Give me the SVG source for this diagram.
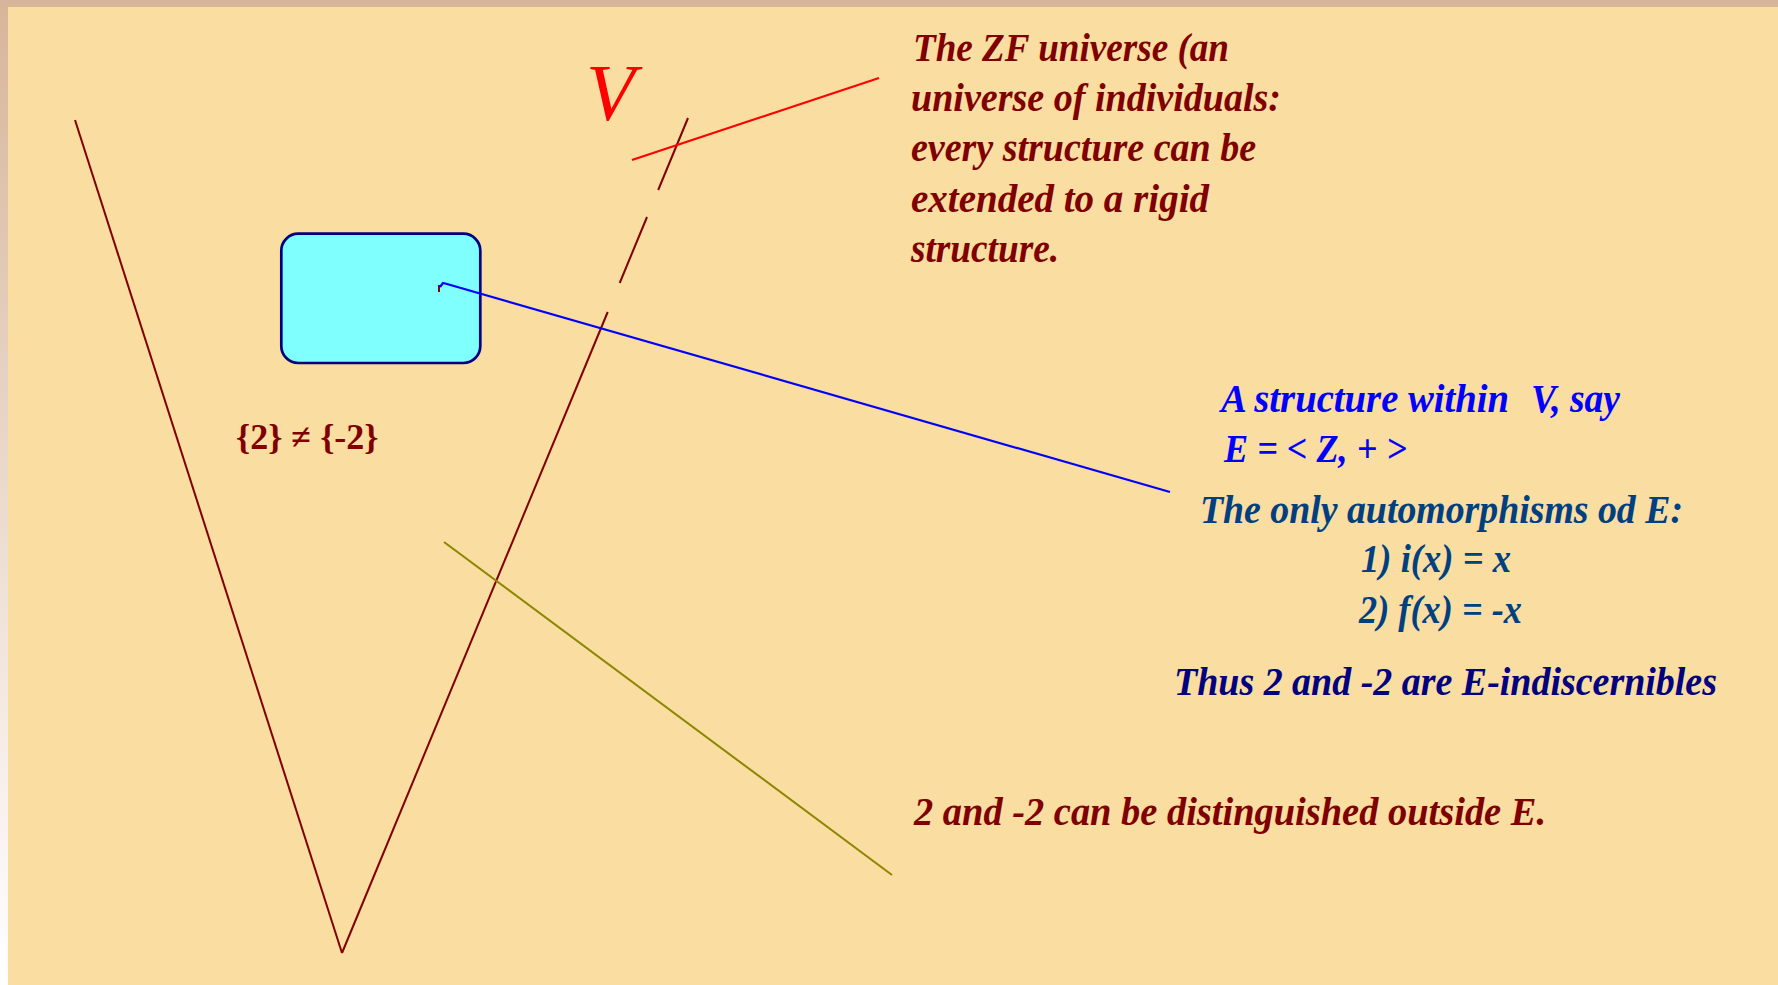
<svg xmlns="http://www.w3.org/2000/svg" width="1778" height="985" viewBox="0 0 1778 985">
<style>
  .t { font-family: "Liberation Serif", "Times New Roman", serif; font-style: italic; font-weight: bold; font-size: 40px; }
  .red { fill: #800000; }
  .blue { fill: #0000FF; }
  .teal { fill: #004080; }
  .navy { fill: #000080; }
  .vline { stroke: #800000; stroke-width: 2; fill: none; }
</style>
<defs>
  <linearGradient id="leftFade" x1="0" y1="0" x2="0" y2="1">
    <stop offset="0" stop-color="#D7B59A"/>
    <stop offset="1" stop-color="#FFFFFF"/>
  </linearGradient>
</defs>
<rect x="0" y="0" width="1778" height="985" fill="#F9DDA1"/>
<rect x="0" y="0" width="1778" height="7" fill="#D7B59A"/>
<rect x="0" y="0" width="8" height="985" fill="url(#leftFade)"/>

<g id="universe-V">
  <line class="vline" x1="75" y1="120" x2="342" y2="953"/>
  <line class="vline" x1="342" y1="953" x2="607.7" y2="312"/>
  <line class="vline" x1="619.7" y1="283" x2="647" y2="217"/>
  <line class="vline" x1="658.2" y1="190" x2="688" y2="118"/>
  <text x="586" y="120" font-family="Liberation Serif, serif" font-style="italic" font-size="80" fill="#FF0000">V</text>
</g>

<g id="structure-box">
  <rect x="281.3" y="233.7" width="199" height="129.3" rx="17" ry="17" fill="#80FFFF" stroke="#000080" stroke-width="2.7"/>
</g>

<g id="connectors">
  <line x1="632" y1="160" x2="879" y2="78" stroke="#FF0000" stroke-width="2"/>
  <line x1="439" y1="285" x2="439" y2="292" stroke="#800000" stroke-width="2"/>
  <polyline points="440,287 443,283 447,284 1170,492" fill="none" stroke="#0000FF" stroke-width="2.2"/>
  <line x1="444" y1="542" x2="892" y2="875" stroke="#8C8600" stroke-width="2"/>
</g>

<g id="zf-note">
  <text class="t red" x="913" y="61" textLength="316" lengthAdjust="spacingAndGlyphs">The ZF universe (an</text>
  <text class="t red" x="911" y="111" textLength="370" lengthAdjust="spacingAndGlyphs">universe of individuals:</text>
  <text class="t red" x="911" y="161" textLength="345" lengthAdjust="spacingAndGlyphs">every structure can be</text>
  <text class="t red" x="911" y="212" textLength="298" lengthAdjust="spacingAndGlyphs">extended to a rigid</text>
  <text class="t red" x="911" y="262" textLength="148" lengthAdjust="spacingAndGlyphs">structure.</text>
</g>

<g id="ineq-label">
  <text x="236" y="449" font-family="Liberation Serif, serif" font-weight="bold" font-size="36" fill="#800000">{2} ≠ {-2}</text>
</g>

<g id="structure-note">
  <text class="t blue" y="412"><tspan x="1221" textLength="288" lengthAdjust="spacingAndGlyphs">A structure within</tspan><tspan x="1531" textLength="89" lengthAdjust="spacingAndGlyphs">V, say</tspan></text>
  <text class="t blue" x="1224" y="462" textLength="183" lengthAdjust="spacingAndGlyphs">E = &lt; Z, + &gt;</text>
</g>

<g id="automorphism-note">
  <text class="t teal" x="1200" y="523" textLength="483" lengthAdjust="spacingAndGlyphs">The only automorphisms od E:</text>
  <text class="t teal" x="1361" y="572" font-weight="normal" textLength="150" lengthAdjust="spacingAndGlyphs">1) i(x) = x</text>
  <text class="t teal" x="1359" y="623" font-weight="normal" textLength="163" lengthAdjust="spacingAndGlyphs">2) f(x) = -x</text>
</g>

<g id="indiscernible-note">
  <text class="t navy" x="1174" y="695" textLength="543" lengthAdjust="spacingAndGlyphs">Thus 2 and -2 are E-indiscernibles</text>
</g>

<g id="outside-note">
  <text class="t red" x="914" y="825" textLength="632" lengthAdjust="spacingAndGlyphs">2 and -2 can be distinguished outside E.</text>
</g>
</svg>
